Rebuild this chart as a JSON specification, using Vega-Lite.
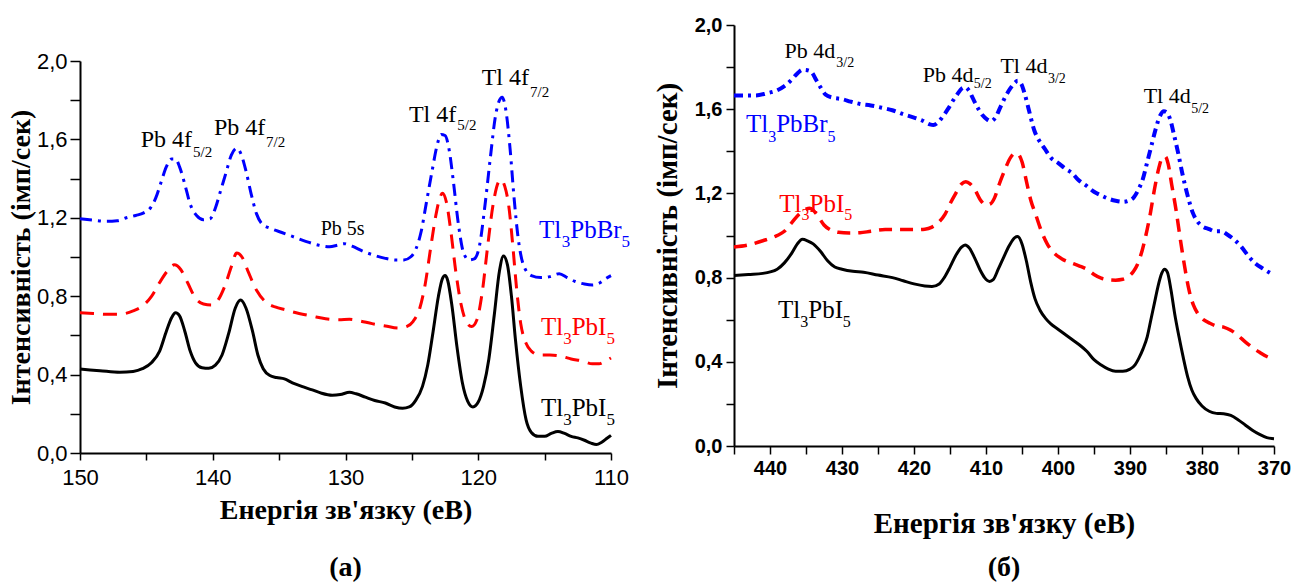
{
  "$schema": "https://vega.github.io/schema/vega-lite/v6.json",
  "background": "white",
  "padding": {"left": 7, "top": 15, "right": 0, "bottom": 0},
  "config": {
    "view": {"stroke": null},
    "axis": {"grid": false, "domainColor": "black", "tickColor": "black", "labelColor": "black", "titleColor": "black", "labelOverlap": false, "labelFlush": false},
    "title": {"color": "black"}
  },
  "datasets": {
    "a": [
      {"s": "Ik", "E": 150.0, "I": 0.428}, {"s": "Ik", "E": 148.5, "I": 0.42}, {"s": "Ik", "E": 147.0, "I": 0.412}, {"s": "Ik", "E": 146.0, "I": 0.416},
      {"s": "Ik", "E": 145.3, "I": 0.43}, {"s": "Ik", "E": 144.6, "I": 0.462}, {"s": "Ik", "E": 144.0, "I": 0.52}, {"s": "Ik", "E": 143.5, "I": 0.62},
      {"s": "Ik", "E": 143.1, "I": 0.69}, {"s": "Ik", "E": 142.8, "I": 0.715}, {"s": "Ik", "E": 142.5, "I": 0.7}, {"s": "Ik", "E": 142.1, "I": 0.62},
      {"s": "Ik", "E": 141.7, "I": 0.52}, {"s": "Ik", "E": 141.3, "I": 0.46}, {"s": "Ik", "E": 140.8, "I": 0.435}, {"s": "Ik", "E": 140.3, "I": 0.432},
      {"s": "Ik", "E": 139.8, "I": 0.448}, {"s": "Ik", "E": 139.3, "I": 0.5}, {"s": "Ik", "E": 138.8, "I": 0.61}, {"s": "Ik", "E": 138.3, "I": 0.74},
      {"s": "Ik", "E": 137.9, "I": 0.78}, {"s": "Ik", "E": 137.5, "I": 0.74}, {"s": "Ik", "E": 137.0, "I": 0.62}, {"s": "Ik", "E": 136.6, "I": 0.5},
      {"s": "Ik", "E": 136.2, "I": 0.43}, {"s": "Ik", "E": 135.7, "I": 0.395}, {"s": "Ik", "E": 135.2, "I": 0.385}, {"s": "Ik", "E": 134.6, "I": 0.378},
      {"s": "Ik", "E": 134.0, "I": 0.358}, {"s": "Ik", "E": 133.3, "I": 0.34}, {"s": "Ik", "E": 132.5, "I": 0.322}, {"s": "Ik", "E": 131.8, "I": 0.305},
      {"s": "Ik", "E": 131.0, "I": 0.295}, {"s": "Ik", "E": 130.4, "I": 0.298}, {"s": "Ik", "E": 129.7, "I": 0.31}, {"s": "Ik", "E": 129.2, "I": 0.302},
      {"s": "Ik", "E": 128.5, "I": 0.285}, {"s": "Ik", "E": 127.8, "I": 0.268}, {"s": "Ik", "E": 127.0, "I": 0.255}, {"s": "Ik", "E": 126.3, "I": 0.235},
      {"s": "Ik", "E": 125.7, "I": 0.228}, {"s": "Ik", "E": 125.2, "I": 0.235}, {"s": "Ik", "E": 124.7, "I": 0.27}, {"s": "Ik", "E": 124.2, "I": 0.34},
      {"s": "Ik", "E": 123.8, "I": 0.45}, {"s": "Ik", "E": 123.4, "I": 0.62}, {"s": "Ik", "E": 123.0, "I": 0.8}, {"s": "Ik", "E": 122.7, "I": 0.89},
      {"s": "Ik", "E": 122.5, "I": 0.905}, {"s": "Ik", "E": 122.3, "I": 0.88}, {"s": "Ik", "E": 122.0, "I": 0.76}, {"s": "Ik", "E": 121.6, "I": 0.54},
      {"s": "Ik", "E": 121.2, "I": 0.36}, {"s": "Ik", "E": 120.8, "I": 0.265}, {"s": "Ik", "E": 120.4, "I": 0.235}, {"s": "Ik", "E": 120.0, "I": 0.26},
      {"s": "Ik", "E": 119.6, "I": 0.34}, {"s": "Ik", "E": 119.2, "I": 0.48}, {"s": "Ik", "E": 118.8, "I": 0.7}, {"s": "Ik", "E": 118.4, "I": 0.93},
      {"s": "Ik", "E": 118.1, "I": 1.005}, {"s": "Ik", "E": 117.8, "I": 0.96}, {"s": "Ik", "E": 117.5, "I": 0.8}, {"s": "Ik", "E": 117.2, "I": 0.58},
      {"s": "Ik", "E": 116.8, "I": 0.34}, {"s": "Ik", "E": 116.4, "I": 0.17}, {"s": "Ik", "E": 116.0, "I": 0.105}, {"s": "Ik", "E": 115.5, "I": 0.085},
      {"s": "Ik", "E": 115.0, "I": 0.085}, {"s": "Ik", "E": 114.5, "I": 0.1}, {"s": "Ik", "E": 114.0, "I": 0.11}, {"s": "Ik", "E": 113.5, "I": 0.1},
      {"s": "Ik", "E": 113.0, "I": 0.085}, {"s": "Ik", "E": 112.5, "I": 0.077}, {"s": "Ik", "E": 112.0, "I": 0.065}, {"s": "Ik", "E": 111.5, "I": 0.05},
      {"s": "Ik", "E": 111.1, "I": 0.043}, {"s": "Ik", "E": 110.7, "I": 0.055}, {"s": "Ik", "E": 110.3, "I": 0.075}, {"s": "Ik", "E": 110.0, "I": 0.09},

      {"s": "Ir", "E": 150.0, "I": 0.715}, {"s": "Ir", "E": 149.0, "I": 0.712}, {"s": "Ir", "E": 148.0, "I": 0.708}, {"s": "Ir", "E": 147.0, "I": 0.708},
      {"s": "Ir", "E": 146.0, "I": 0.725}, {"s": "Ir", "E": 145.3, "I": 0.75}, {"s": "Ir", "E": 144.6, "I": 0.8}, {"s": "Ir", "E": 144.0, "I": 0.87},
      {"s": "Ir", "E": 143.4, "I": 0.93}, {"s": "Ir", "E": 142.9, "I": 0.96}, {"s": "Ir", "E": 142.4, "I": 0.935}, {"s": "Ir", "E": 141.9, "I": 0.87},
      {"s": "Ir", "E": 141.3, "I": 0.79}, {"s": "Ir", "E": 140.7, "I": 0.76}, {"s": "Ir", "E": 140.1, "I": 0.755}, {"s": "Ir", "E": 139.6, "I": 0.78},
      {"s": "Ir", "E": 139.1, "I": 0.85}, {"s": "Ir", "E": 138.6, "I": 0.95}, {"s": "Ir", "E": 138.2, "I": 1.02}, {"s": "Ir", "E": 137.8, "I": 1.0},
      {"s": "Ir", "E": 137.3, "I": 0.92}, {"s": "Ir", "E": 136.7, "I": 0.83}, {"s": "Ir", "E": 136.0, "I": 0.77}, {"s": "Ir", "E": 135.3, "I": 0.745},
      {"s": "Ir", "E": 134.5, "I": 0.73}, {"s": "Ir", "E": 133.5, "I": 0.712}, {"s": "Ir", "E": 132.5, "I": 0.698}, {"s": "Ir", "E": 131.5, "I": 0.685},
      {"s": "Ir", "E": 130.5, "I": 0.68}, {"s": "Ir", "E": 129.7, "I": 0.682}, {"s": "Ir", "E": 129.0, "I": 0.675}, {"s": "Ir", "E": 128.0, "I": 0.66},
      {"s": "Ir", "E": 127.0, "I": 0.648}, {"s": "Ir", "E": 126.0, "I": 0.637}, {"s": "Ir", "E": 125.4, "I": 0.645}, {"s": "Ir", "E": 124.9, "I": 0.672},
      {"s": "Ir", "E": 124.4, "I": 0.74}, {"s": "Ir", "E": 124.0, "I": 0.86}, {"s": "Ir", "E": 123.6, "I": 1.04}, {"s": "Ir", "E": 123.2, "I": 1.21},
      {"s": "Ir", "E": 122.9, "I": 1.3}, {"s": "Ir", "E": 122.7, "I": 1.325}, {"s": "Ir", "E": 122.4, "I": 1.28}, {"s": "Ir", "E": 122.1, "I": 1.15},
      {"s": "Ir", "E": 121.7, "I": 0.93}, {"s": "Ir", "E": 121.3, "I": 0.76}, {"s": "Ir", "E": 120.9, "I": 0.67}, {"s": "Ir", "E": 120.5, "I": 0.645},
      {"s": "Ir", "E": 120.1, "I": 0.68}, {"s": "Ir", "E": 119.7, "I": 0.82}, {"s": "Ir", "E": 119.3, "I": 1.05}, {"s": "Ir", "E": 118.9, "I": 1.26},
      {"s": "Ir", "E": 118.5, "I": 1.38}, {"s": "Ir", "E": 118.3, "I": 1.395}, {"s": "Ir", "E": 118.0, "I": 1.36}, {"s": "Ir", "E": 117.7, "I": 1.26},
      {"s": "Ir", "E": 117.4, "I": 1.06}, {"s": "Ir", "E": 117.1, "I": 0.83}, {"s": "Ir", "E": 116.8, "I": 0.66}, {"s": "Ir", "E": 116.4, "I": 0.56},
      {"s": "Ir", "E": 116.0, "I": 0.52}, {"s": "Ir", "E": 115.4, "I": 0.5}, {"s": "Ir", "E": 114.6, "I": 0.5}, {"s": "Ir", "E": 113.8, "I": 0.495},
      {"s": "Ir", "E": 113.0, "I": 0.48}, {"s": "Ir", "E": 112.2, "I": 0.47}, {"s": "Ir", "E": 111.4, "I": 0.455}, {"s": "Ir", "E": 110.9, "I": 0.455},
      {"s": "Ir", "E": 110.4, "I": 0.47}, {"s": "Ir", "E": 110.0, "I": 0.485},

      {"s": "Br", "E": 150.0, "I": 1.195}, {"s": "Br", "E": 149.0, "I": 1.188}, {"s": "Br", "E": 148.0, "I": 1.182}, {"s": "Br", "E": 147.2, "I": 1.185},
      {"s": "Br", "E": 146.5, "I": 1.2}, {"s": "Br", "E": 145.8, "I": 1.212}, {"s": "Br", "E": 145.2, "I": 1.225}, {"s": "Br", "E": 144.7, "I": 1.25},
      {"s": "Br", "E": 144.3, "I": 1.3}, {"s": "Br", "E": 143.9, "I": 1.38}, {"s": "Br", "E": 143.5, "I": 1.46}, {"s": "Br", "E": 143.1, "I": 1.5},
      {"s": "Br", "E": 142.8, "I": 1.5}, {"s": "Br", "E": 142.5, "I": 1.46}, {"s": "Br", "E": 142.1, "I": 1.37}, {"s": "Br", "E": 141.7, "I": 1.27},
      {"s": "Br", "E": 141.2, "I": 1.21}, {"s": "Br", "E": 140.7, "I": 1.19}, {"s": "Br", "E": 140.2, "I": 1.195}, {"s": "Br", "E": 139.8, "I": 1.25},
      {"s": "Br", "E": 139.4, "I": 1.34}, {"s": "Br", "E": 139.0, "I": 1.43}, {"s": "Br", "E": 138.6, "I": 1.52}, {"s": "Br", "E": 138.2, "I": 1.555},
      {"s": "Br", "E": 137.9, "I": 1.53}, {"s": "Br", "E": 137.5, "I": 1.44}, {"s": "Br", "E": 137.1, "I": 1.32}, {"s": "Br", "E": 136.7, "I": 1.22},
      {"s": "Br", "E": 136.3, "I": 1.17}, {"s": "Br", "E": 135.6, "I": 1.145}, {"s": "Br", "E": 134.8, "I": 1.125}, {"s": "Br", "E": 134.0, "I": 1.105},
      {"s": "Br", "E": 133.0, "I": 1.08}, {"s": "Br", "E": 132.0, "I": 1.06}, {"s": "Br", "E": 131.2, "I": 1.052}, {"s": "Br", "E": 130.6, "I": 1.06},
      {"s": "Br", "E": 130.1, "I": 1.068}, {"s": "Br", "E": 129.5, "I": 1.055}, {"s": "Br", "E": 128.7, "I": 1.03}, {"s": "Br", "E": 127.9, "I": 1.01},
      {"s": "Br", "E": 127.0, "I": 0.993}, {"s": "Br", "E": 126.2, "I": 0.985}, {"s": "Br", "E": 125.6, "I": 0.985}, {"s": "Br", "E": 125.1, "I": 1.0},
      {"s": "Br", "E": 124.7, "I": 1.04}, {"s": "Br", "E": 124.3, "I": 1.13}, {"s": "Br", "E": 123.9, "I": 1.28}, {"s": "Br", "E": 123.5, "I": 1.43},
      {"s": "Br", "E": 123.1, "I": 1.57}, {"s": "Br", "E": 122.8, "I": 1.625}, {"s": "Br", "E": 122.5, "I": 1.62}, {"s": "Br", "E": 122.2, "I": 1.55},
      {"s": "Br", "E": 121.9, "I": 1.4}, {"s": "Br", "E": 121.5, "I": 1.17}, {"s": "Br", "E": 121.1, "I": 1.02}, {"s": "Br", "E": 120.7, "I": 0.985},
      {"s": "Br", "E": 120.3, "I": 0.99}, {"s": "Br", "E": 119.9, "I": 1.06}, {"s": "Br", "E": 119.5, "I": 1.26}, {"s": "Br", "E": 119.1, "I": 1.5},
      {"s": "Br", "E": 118.7, "I": 1.72}, {"s": "Br", "E": 118.4, "I": 1.8}, {"s": "Br", "E": 118.2, "I": 1.815}, {"s": "Br", "E": 117.9, "I": 1.74},
      {"s": "Br", "E": 117.6, "I": 1.55}, {"s": "Br", "E": 117.3, "I": 1.3}, {"s": "Br", "E": 117.0, "I": 1.1}, {"s": "Br", "E": 116.6, "I": 0.96},
      {"s": "Br", "E": 116.0, "I": 0.905}, {"s": "Br", "E": 115.3, "I": 0.895}, {"s": "Br", "E": 114.6, "I": 0.9}, {"s": "Br", "E": 113.9, "I": 0.915},
      {"s": "Br", "E": 113.3, "I": 0.895}, {"s": "Br", "E": 112.7, "I": 0.875}, {"s": "Br", "E": 112.0, "I": 0.862}, {"s": "Br", "E": 111.4, "I": 0.857},
      {"s": "Br", "E": 110.8, "I": 0.87}, {"s": "Br", "E": 110.4, "I": 0.89}, {"s": "Br", "E": 110.0, "I": 0.905}
    ],
    "labA": [
      {"k": "pk", "s": "pk", "E": 145.43, "I": 1.563, "t": "Pb 4f"},
      {"k": "pksub", "s": "pk", "E": 141.49, "I": 1.51, "t": "5/2"},
      {"k": "pk", "s": "pk", "E": 139.91, "I": 1.622, "t": "Pb 4f"},
      {"k": "pksub", "s": "pk", "E": 135.99, "I": 1.563, "t": "7/2"},
      {"k": "pk", "s": "pk", "E": 125.22, "I": 1.69, "t": "Tl 4f"},
      {"k": "pksub", "s": "pk", "E": 121.58, "I": 1.648, "t": "5/2"},
      {"k": "pk", "s": "pk", "E": 119.74, "I": 1.878, "t": "Tl 4f"},
      {"k": "pksub", "s": "pk", "E": 116.1, "I": 1.818, "t": "7/2"},
      {"k": "sm", "s": "pk", "E": 131.87, "I": 1.112, "t": "Pb 5s"},
      {"k": "cp", "s": "Br", "E": 115.42, "I": 1.097, "t": "Tl"},
      {"k": "cpsub", "s": "Br", "E": 113.71, "I": 1.05, "t": "3"},
      {"k": "cp", "s": "Br", "E": 113.07, "I": 1.097, "t": "PbBr"},
      {"k": "cpsub", "s": "Br", "E": 109.2, "I": 1.05, "t": "5"},
      {"k": "cp", "s": "Ir", "E": 115.27, "I": 0.6, "t": "Tl"},
      {"k": "cpsub", "s": "Ir", "E": 113.6, "I": 0.555, "t": "3"},
      {"k": "cp", "s": "Ir", "E": 112.96, "I": 0.6, "t": "PbI"},
      {"k": "cpsub", "s": "Ir", "E": 110.34, "I": 0.555, "t": "5"},
      {"k": "cp", "s": "Ik", "E": 115.27, "I": 0.19, "t": "Tl"},
      {"k": "cpsub", "s": "Ik", "E": 113.6, "I": 0.145, "t": "3"},
      {"k": "cp", "s": "Ik", "E": 112.96, "I": 0.19, "t": "PbI"},
      {"k": "cpsub", "s": "Ik", "E": 110.34, "I": 0.145, "t": "5"}
    ],
    "b": [
      {"s": "Ik", "E": 445, "I": 0.81}, {"s": "Ik", "E": 443, "I": 0.815}, {"s": "Ik", "E": 441, "I": 0.82}, {"s": "Ik", "E": 439, "I": 0.84},
      {"s": "Ik", "E": 438, "I": 0.87}, {"s": "Ik", "E": 437, "I": 0.915}, {"s": "Ik", "E": 436.2, "I": 0.96}, {"s": "Ik", "E": 435.5, "I": 0.982},
      {"s": "Ik", "E": 434.8, "I": 0.975}, {"s": "Ik", "E": 434, "I": 0.96}, {"s": "Ik", "E": 433, "I": 0.925}, {"s": "Ik", "E": 432, "I": 0.88},
      {"s": "Ik", "E": 431, "I": 0.85}, {"s": "Ik", "E": 430, "I": 0.84}, {"s": "Ik", "E": 428.5, "I": 0.83}, {"s": "Ik", "E": 427, "I": 0.825},
      {"s": "Ik", "E": 425, "I": 0.812}, {"s": "Ik", "E": 423, "I": 0.8}, {"s": "Ik", "E": 421.5, "I": 0.785}, {"s": "Ik", "E": 420, "I": 0.77},
      {"s": "Ik", "E": 418.5, "I": 0.76}, {"s": "Ik", "E": 417.5, "I": 0.758}, {"s": "Ik", "E": 416.5, "I": 0.77}, {"s": "Ik", "E": 415.8, "I": 0.8},
      {"s": "Ik", "E": 415, "I": 0.85}, {"s": "Ik", "E": 414.2, "I": 0.905}, {"s": "Ik", "E": 413.4, "I": 0.945}, {"s": "Ik", "E": 412.9, "I": 0.955},
      {"s": "Ik", "E": 412.3, "I": 0.94}, {"s": "Ik", "E": 411.6, "I": 0.895}, {"s": "Ik", "E": 410.8, "I": 0.835}, {"s": "Ik", "E": 410.2, "I": 0.8},
      {"s": "Ik", "E": 409.5, "I": 0.782}, {"s": "Ik", "E": 409, "I": 0.79}, {"s": "Ik", "E": 408.3, "I": 0.84}, {"s": "Ik", "E": 407.5, "I": 0.9},
      {"s": "Ik", "E": 406.8, "I": 0.95}, {"s": "Ik", "E": 406.0, "I": 0.99}, {"s": "Ik", "E": 405.6, "I": 0.995}, {"s": "Ik", "E": 405.0, "I": 0.96},
      {"s": "Ik", "E": 404.4, "I": 0.88}, {"s": "Ik", "E": 403.8, "I": 0.78}, {"s": "Ik", "E": 403.2, "I": 0.7}, {"s": "Ik", "E": 402.5, "I": 0.645},
      {"s": "Ik", "E": 401.7, "I": 0.605}, {"s": "Ik", "E": 401, "I": 0.58}, {"s": "Ik", "E": 400, "I": 0.555}, {"s": "Ik", "E": 399, "I": 0.53},
      {"s": "Ik", "E": 398, "I": 0.505}, {"s": "Ik", "E": 397, "I": 0.48}, {"s": "Ik", "E": 396, "I": 0.45}, {"s": "Ik", "E": 395, "I": 0.41},
      {"s": "Ik", "E": 394, "I": 0.385}, {"s": "Ik", "E": 393, "I": 0.365}, {"s": "Ik", "E": 392, "I": 0.355}, {"s": "Ik", "E": 391, "I": 0.355},
      {"s": "Ik", "E": 390, "I": 0.365}, {"s": "Ik", "E": 389.3, "I": 0.385}, {"s": "Ik", "E": 388.8, "I": 0.415}, {"s": "Ik", "E": 388.2, "I": 0.46},
      {"s": "Ik", "E": 387.6, "I": 0.52}, {"s": "Ik", "E": 387.1, "I": 0.6}, {"s": "Ik", "E": 386.6, "I": 0.68}, {"s": "Ik", "E": 386.1, "I": 0.76},
      {"s": "Ik", "E": 385.6, "I": 0.82}, {"s": "Ik", "E": 385.2, "I": 0.84}, {"s": "Ik", "E": 384.8, "I": 0.825}, {"s": "Ik", "E": 384.3, "I": 0.74},
      {"s": "Ik", "E": 383.8, "I": 0.63}, {"s": "Ik", "E": 383.2, "I": 0.52}, {"s": "Ik", "E": 382.6, "I": 0.42}, {"s": "Ik", "E": 382.0, "I": 0.33},
      {"s": "Ik", "E": 381.4, "I": 0.265}, {"s": "Ik", "E": 380.8, "I": 0.225}, {"s": "Ik", "E": 380.0, "I": 0.19}, {"s": "Ik", "E": 379.0, "I": 0.165},
      {"s": "Ik", "E": 378.0, "I": 0.155}, {"s": "Ik", "E": 377.0, "I": 0.153}, {"s": "Ik", "E": 376.0, "I": 0.145}, {"s": "Ik", "E": 375.0, "I": 0.125},
      {"s": "Ik", "E": 374.0, "I": 0.1}, {"s": "Ik", "E": 373.0, "I": 0.075}, {"s": "Ik", "E": 372.0, "I": 0.055}, {"s": "Ik", "E": 371.0, "I": 0.04},
      {"s": "Ik", "E": 370.0, "I": 0.035},

      {"s": "Ir", "E": 445, "I": 0.945}, {"s": "Ir", "E": 443, "I": 0.955}, {"s": "Ir", "E": 441, "I": 0.975}, {"s": "Ir", "E": 439, "I": 1.0},
      {"s": "Ir", "E": 438, "I": 1.02}, {"s": "Ir", "E": 437, "I": 1.06}, {"s": "Ir", "E": 436, "I": 1.1}, {"s": "Ir", "E": 435, "I": 1.125},
      {"s": "Ir", "E": 434.5, "I": 1.13}, {"s": "Ir", "E": 434, "I": 1.12}, {"s": "Ir", "E": 433.3, "I": 1.09}, {"s": "Ir", "E": 432.5, "I": 1.05},
      {"s": "Ir", "E": 431.5, "I": 1.025}, {"s": "Ir", "E": 430.5, "I": 1.015}, {"s": "Ir", "E": 429, "I": 1.012}, {"s": "Ir", "E": 427.5, "I": 1.013},
      {"s": "Ir", "E": 426, "I": 1.02}, {"s": "Ir", "E": 424, "I": 1.028}, {"s": "Ir", "E": 422, "I": 1.028}, {"s": "Ir", "E": 420, "I": 1.028},
      {"s": "Ir", "E": 418.5, "I": 1.03}, {"s": "Ir", "E": 417.5, "I": 1.04}, {"s": "Ir", "E": 416.5, "I": 1.065}, {"s": "Ir", "E": 415.7, "I": 1.1},
      {"s": "Ir", "E": 415, "I": 1.15}, {"s": "Ir", "E": 414.2, "I": 1.2}, {"s": "Ir", "E": 413.4, "I": 1.245}, {"s": "Ir", "E": 412.8, "I": 1.255},
      {"s": "Ir", "E": 412.2, "I": 1.245}, {"s": "Ir", "E": 411.5, "I": 1.215}, {"s": "Ir", "E": 410.8, "I": 1.17}, {"s": "Ir", "E": 410.0, "I": 1.145},
      {"s": "Ir", "E": 409.4, "I": 1.15}, {"s": "Ir", "E": 408.8, "I": 1.18}, {"s": "Ir", "E": 408.2, "I": 1.24}, {"s": "Ir", "E": 407.4, "I": 1.31},
      {"s": "Ir", "E": 406.6, "I": 1.37}, {"s": "Ir", "E": 406.0, "I": 1.39}, {"s": "Ir", "E": 405.5, "I": 1.385}, {"s": "Ir", "E": 405, "I": 1.35},
      {"s": "Ir", "E": 404.4, "I": 1.26}, {"s": "Ir", "E": 403.8, "I": 1.17}, {"s": "Ir", "E": 403.1, "I": 1.1}, {"s": "Ir", "E": 402.3, "I": 1.02},
      {"s": "Ir", "E": 401.5, "I": 0.96}, {"s": "Ir", "E": 400.5, "I": 0.915}, {"s": "Ir", "E": 399.5, "I": 0.89}, {"s": "Ir", "E": 398.2, "I": 0.87},
      {"s": "Ir", "E": 397, "I": 0.855}, {"s": "Ir", "E": 396, "I": 0.84}, {"s": "Ir", "E": 395, "I": 0.815}, {"s": "Ir", "E": 394, "I": 0.797},
      {"s": "Ir", "E": 393, "I": 0.79}, {"s": "Ir", "E": 392, "I": 0.788}, {"s": "Ir", "E": 391, "I": 0.792}, {"s": "Ir", "E": 390.2, "I": 0.805},
      {"s": "Ir", "E": 389.5, "I": 0.83}, {"s": "Ir", "E": 389, "I": 0.86}, {"s": "Ir", "E": 388.3, "I": 0.93}, {"s": "Ir", "E": 387.8, "I": 1.0},
      {"s": "Ir", "E": 387.2, "I": 1.1}, {"s": "Ir", "E": 386.6, "I": 1.22}, {"s": "Ir", "E": 386.0, "I": 1.32}, {"s": "Ir", "E": 385.5, "I": 1.37},
      {"s": "Ir", "E": 385.1, "I": 1.375}, {"s": "Ir", "E": 384.7, "I": 1.34}, {"s": "Ir", "E": 384.2, "I": 1.24}, {"s": "Ir", "E": 383.6, "I": 1.12},
      {"s": "Ir", "E": 383.0, "I": 0.98}, {"s": "Ir", "E": 382.4, "I": 0.85}, {"s": "Ir", "E": 381.8, "I": 0.74}, {"s": "Ir", "E": 381.2, "I": 0.67},
      {"s": "Ir", "E": 380.6, "I": 0.63}, {"s": "Ir", "E": 379.8, "I": 0.6}, {"s": "Ir", "E": 379, "I": 0.585}, {"s": "Ir", "E": 378, "I": 0.57},
      {"s": "Ir", "E": 377, "I": 0.565}, {"s": "Ir", "E": 376, "I": 0.55}, {"s": "Ir", "E": 375, "I": 0.525}, {"s": "Ir", "E": 374, "I": 0.495},
      {"s": "Ir", "E": 373, "I": 0.468}, {"s": "Ir", "E": 372, "I": 0.445}, {"s": "Ir", "E": 371, "I": 0.425}, {"s": "Ir", "E": 370, "I": 0.412},

      {"s": "Br", "E": 445, "I": 1.665}, {"s": "Br", "E": 443.5, "I": 1.665}, {"s": "Br", "E": 442, "I": 1.665}, {"s": "Br", "E": 440.5, "I": 1.675},
      {"s": "Br", "E": 439, "I": 1.69}, {"s": "Br", "E": 438, "I": 1.71}, {"s": "Br", "E": 437, "I": 1.74}, {"s": "Br", "E": 436.2, "I": 1.77},
      {"s": "Br", "E": 435.5, "I": 1.787}, {"s": "Br", "E": 434.8, "I": 1.785}, {"s": "Br", "E": 434.2, "I": 1.775}, {"s": "Br", "E": 433.6, "I": 1.74},
      {"s": "Br", "E": 433, "I": 1.705}, {"s": "Br", "E": 432.3, "I": 1.67}, {"s": "Br", "E": 431.3, "I": 1.655}, {"s": "Br", "E": 430, "I": 1.648},
      {"s": "Br", "E": 428.8, "I": 1.636}, {"s": "Br", "E": 427.5, "I": 1.625}, {"s": "Br", "E": 426, "I": 1.618}, {"s": "Br", "E": 424.5, "I": 1.607},
      {"s": "Br", "E": 423, "I": 1.595}, {"s": "Br", "E": 421.5, "I": 1.576}, {"s": "Br", "E": 420, "I": 1.56}, {"s": "Br", "E": 418.8, "I": 1.545},
      {"s": "Br", "E": 417.8, "I": 1.528}, {"s": "Br", "E": 417.3, "I": 1.525}, {"s": "Br", "E": 416.6, "I": 1.54}, {"s": "Br", "E": 416, "I": 1.565},
      {"s": "Br", "E": 415.3, "I": 1.6}, {"s": "Br", "E": 414.6, "I": 1.64}, {"s": "Br", "E": 414, "I": 1.67}, {"s": "Br", "E": 413.3, "I": 1.7},
      {"s": "Br", "E": 412.9, "I": 1.705}, {"s": "Br", "E": 412.4, "I": 1.69}, {"s": "Br", "E": 411.8, "I": 1.65}, {"s": "Br", "E": 411.2, "I": 1.61},
      {"s": "Br", "E": 410.5, "I": 1.572}, {"s": "Br", "E": 409.8, "I": 1.55}, {"s": "Br", "E": 409.3, "I": 1.543}, {"s": "Br", "E": 408.7, "I": 1.56},
      {"s": "Br", "E": 408, "I": 1.61}, {"s": "Br", "E": 407.3, "I": 1.66}, {"s": "Br", "E": 406.6, "I": 1.7}, {"s": "Br", "E": 406, "I": 1.725},
      {"s": "Br", "E": 405.6, "I": 1.735}, {"s": "Br", "E": 405.1, "I": 1.72}, {"s": "Br", "E": 404.6, "I": 1.67}, {"s": "Br", "E": 404, "I": 1.59},
      {"s": "Br", "E": 403.3, "I": 1.5}, {"s": "Br", "E": 402.6, "I": 1.45}, {"s": "Br", "E": 401.8, "I": 1.41}, {"s": "Br", "E": 401, "I": 1.37},
      {"s": "Br", "E": 400, "I": 1.345}, {"s": "Br", "E": 399, "I": 1.318}, {"s": "Br", "E": 398, "I": 1.295}, {"s": "Br", "E": 397.2, "I": 1.265},
      {"s": "Br", "E": 396, "I": 1.235}, {"s": "Br", "E": 395, "I": 1.208}, {"s": "Br", "E": 394, "I": 1.19}, {"s": "Br", "E": 393, "I": 1.175},
      {"s": "Br", "E": 392, "I": 1.165}, {"s": "Br", "E": 391, "I": 1.16}, {"s": "Br", "E": 390.2, "I": 1.165}, {"s": "Br", "E": 389.5, "I": 1.18},
      {"s": "Br", "E": 388.8, "I": 1.22}, {"s": "Br", "E": 388.2, "I": 1.27}, {"s": "Br", "E": 387.6, "I": 1.35}, {"s": "Br", "E": 387.0, "I": 1.43},
      {"s": "Br", "E": 386.4, "I": 1.51}, {"s": "Br", "E": 385.8, "I": 1.57}, {"s": "Br", "E": 385.3, "I": 1.59}, {"s": "Br", "E": 384.9, "I": 1.585},
      {"s": "Br", "E": 384.4, "I": 1.55}, {"s": "Br", "E": 383.9, "I": 1.48}, {"s": "Br", "E": 383.3, "I": 1.39}, {"s": "Br", "E": 382.7, "I": 1.29},
      {"s": "Br", "E": 382.0, "I": 1.19}, {"s": "Br", "E": 381.3, "I": 1.11}, {"s": "Br", "E": 380.6, "I": 1.065}, {"s": "Br", "E": 380, "I": 1.045},
      {"s": "Br", "E": 379, "I": 1.03}, {"s": "Br", "E": 378.2, "I": 1.02}, {"s": "Br", "E": 377.3, "I": 1.02}, {"s": "Br", "E": 376.5, "I": 1.005},
      {"s": "Br", "E": 375.5, "I": 0.98}, {"s": "Br", "E": 374.5, "I": 0.945}, {"s": "Br", "E": 373.5, "I": 0.9}, {"s": "Br", "E": 372.5, "I": 0.865},
      {"s": "Br", "E": 371.5, "I": 0.842}, {"s": "Br", "E": 370.7, "I": 0.825}, {"s": "Br", "E": 370, "I": 0.812}
    ],
    "labB": [
      {"k": "pk", "s": "pk", "E": 438.0, "I": 1.842, "t": "Pb 4d"},
      {"k": "pksub", "s": "pk", "E": 430.8, "I": 1.8, "t": "3/2"},
      {"k": "pk", "s": "pk", "E": 418.8, "I": 1.731, "t": "Pb 4d"},
      {"k": "pksub", "s": "pk", "E": 411.7, "I": 1.7, "t": "5/2"},
      {"k": "pk", "s": "pk", "E": 408.0, "I": 1.77, "t": "Tl 4d"},
      {"k": "pksub", "s": "pk", "E": 401.4, "I": 1.723, "t": "3/2"},
      {"k": "pk", "s": "pk", "E": 388.1, "I": 1.628, "t": "Tl 4d"},
      {"k": "pksub", "s": "pk", "E": 381.5, "I": 1.58, "t": "5/2"},
      {"k": "cp", "s": "Br", "E": 443.33, "I": 1.493, "t": "Tl"},
      {"k": "cpsub", "s": "Br", "E": 440.25, "I": 1.446, "t": "3"},
      {"k": "cp", "s": "Br", "E": 439.14, "I": 1.493, "t": "PbBr"},
      {"k": "cpsub", "s": "Br", "E": 432.0, "I": 1.446, "t": "5"},
      {"k": "cp", "s": "Ir", "E": 438.71, "I": 1.113, "t": "Tl"},
      {"k": "cpsub", "s": "Ir", "E": 435.63, "I": 1.074, "t": "3"},
      {"k": "cp", "s": "Ir", "E": 434.51, "I": 1.113, "t": "PbI"},
      {"k": "cpsub", "s": "Ir", "E": 429.69, "I": 1.074, "t": "5"},
      {"k": "cp", "s": "Ik", "E": 438.9, "I": 0.61, "t": "Tl"},
      {"k": "cpsub", "s": "Ik", "E": 435.81, "I": 0.565, "t": "3"},
      {"k": "cp", "s": "Ik", "E": 434.69, "I": 0.61, "t": "PbI"},
      {"k": "cpsub", "s": "Ik", "E": 429.88, "I": 0.565, "t": "5"}
    ]
  },
  "spacing": 22,
  "hconcat": [
    {
      "spacing": 20,
      "vconcat": [
        {"width": 531, "height": 5, "data": {"values": []}, "mark": "point"},
        {
          "width": 531,
          "height": 392,
          "title": {"text": "(а)", "orient": "bottom", "font": "Liberation Serif", "fontWeight": "bold", "fontSize": 28, "offset": 30},
          "encoding": {
            "x": {
              "field": "E", "type": "quantitative",
              "scale": {"domain": [110, 150], "reverse": true, "nice": false, "zero": false},
              "axis": {
                "title": "Енергія зв'язку (еВ)",
                "values": [150, 145, 140, 135, 130, 125, 120, 115, 110],
                "labelExpr": "datum.value % 10 === 0 ? '' + datum.value : ''",
                "labelFont": "Liberation Sans", "labelFontSize": 22, "labelPadding": 7,
                "tickSize": 7, "tickWidth": 1.5, "domainWidth": 2,
                "titleFont": "Liberation Serif", "titleFontSize": 28, "titleFontWeight": "bold", "titlePadding": 8
              }
            },
            "y": {
              "field": "I", "type": "quantitative",
              "scale": {"domain": [0, 2], "nice": false},
              "axis": {
                "title": "Інтенсивність (імп/сек)",
                "values": [0, 0.2, 0.4, 0.6, 0.8, 1.0, 1.2, 1.4, 1.6, 1.8, 2.0],
                "labelExpr": "round(datum.value * 10) % 4 === 0 ? replace(format(datum.value, '.1f'), '.', ',') : ''",
                "labelFont": "Liberation Sans", "labelFontSize": 22, "labelPadding": 3,
                "tickSize": 10, "tickWidth": 1.5, "domainWidth": 2,
                "titleFont": "Liberation Serif", "titleFontSize": 28, "titleFontWeight": "bold", "titlePadding": 1
              }
            },
            "color": {
              "field": "s", "type": "nominal",
              "scale": {"domain": ["Br", "Ir", "Ik", "pk"], "range": ["#0000ff", "#ff0000", "#000000", "#000000"]},
              "legend": null
            }
          },
          "layer": [
            {
              "data": {"name": "a"},
              "transform": [{"filter": "datum.s === 'Ik'"}],
              "mark": {"type": "line", "interpolate": "monotone", "strokeWidth": 3},
              "encoding": {"order": {"field": "E", "sort": "descending"}}
            },
            {
              "data": {"name": "a"},
              "transform": [{"filter": "datum.s === 'Ir'"}],
              "mark": {"type": "line", "interpolate": "monotone", "strokeWidth": 3, "strokeDash": [14, 9]},
              "encoding": {"order": {"field": "E", "sort": "descending"}}
            },
            {
              "data": {"name": "a"},
              "transform": [{"filter": "datum.s === 'Br'"}],
              "mark": {"type": "line", "interpolate": "monotone", "strokeWidth": 3, "strokeDash": [12, 6, 3, 6]},
              "encoding": {"order": {"field": "E", "sort": "descending"}}
            },
            {
              "data": {"name": "labA"},
              "transform": [{"filter": "datum.k === 'pk'"}],
              "mark": {"type": "text", "align": "left", "baseline": "alphabetic", "font": "Liberation Serif", "fontSize": 24},
              "encoding": {"text": {"field": "t"}}
            },
            {
              "data": {"name": "labA"},
              "transform": [{"filter": "datum.k === 'pksub'"}],
              "mark": {"type": "text", "align": "left", "baseline": "alphabetic", "font": "Liberation Serif", "fontSize": 15},
              "encoding": {"text": {"field": "t"}}
            },
            {
              "data": {"name": "labA"},
              "transform": [{"filter": "datum.k === 'sm'"}],
              "mark": {"type": "text", "align": "left", "baseline": "alphabetic", "font": "Liberation Serif", "fontSize": 20},
              "encoding": {"text": {"field": "t"}}
            },
            {
              "data": {"name": "labA"},
              "transform": [{"filter": "datum.k === 'cp'"}],
              "mark": {"type": "text", "align": "left", "baseline": "alphabetic", "font": "Liberation Serif", "fontSize": 25},
              "encoding": {"text": {"field": "t"}}
            },
            {
              "data": {"name": "labA"},
              "transform": [{"filter": "datum.k === 'cpsub'"}],
              "mark": {"type": "text", "align": "left", "baseline": "alphabetic", "font": "Liberation Serif", "fontSize": 17},
              "encoding": {"text": {"field": "t"}}
            }
          ]
        }
      ]
    },
    {
      "width": 540,
      "height": 421,
      "title": {"text": "(б)", "orient": "bottom", "font": "Liberation Serif", "fontWeight": "bold", "fontSize": 28, "offset": 16},
      "encoding": {
        "x": {
          "field": "E", "type": "quantitative",
          "scale": {"domain": [370, 445], "reverse": true, "nice": false, "zero": false},
          "axis": {
            "title": "Енергія зв'язку (еВ)",
            "values": [445, 440, 435, 430, 425, 420, 415, 410, 405, 400, 395, 390, 385, 380, 375, 370],
            "labelExpr": "datum.value % 10 === 0 ? '' + datum.value : ''",
            "labelFont": "Liberation Sans", "labelFontWeight": "bold", "labelFontSize": 20, "labelPadding": 4,
            "tickSize": 8, "tickWidth": 1.5, "domainWidth": 2,
            "titleFont": "Liberation Serif", "titleFontSize": 29, "titleFontWeight": "bold", "titlePadding": 31
          }
        },
        "y": {
          "field": "I", "type": "quantitative",
          "scale": {"domain": [0, 2], "nice": false},
          "axis": {
            "title": "Інтенсивність (імп/сек)",
            "values": [0, 0.2, 0.4, 0.6, 0.8, 1.0, 1.2, 1.4, 1.6, 1.8, 2.0],
            "labelExpr": "round(datum.value * 10) % 4 === 0 ? replace(format(datum.value, '.1f'), '.', ',') : ''",
            "labelFont": "Liberation Sans", "labelFontWeight": "bold", "labelFontSize": 20, "labelPadding": 4,
            "tickSize": 8, "tickWidth": 1.5, "domainWidth": 2,
            "titleFont": "Liberation Serif", "titleFontSize": 29, "titleFontWeight": "bold", "titlePadding": 12
          }
        },
        "color": {
          "field": "s", "type": "nominal",
          "scale": {"domain": ["Br", "Ir", "Ik", "pk"], "range": ["#0000ff", "#ff0000", "#000000", "#000000"]},
          "legend": null
        }
      },
      "layer": [
        {
          "data": {"name": "b"},
          "transform": [{"filter": "datum.s === 'Ik'"}],
          "mark": {"type": "line", "interpolate": "monotone", "strokeWidth": 3},
          "encoding": {"order": {"field": "E", "sort": "descending"}}
        },
        {
          "data": {"name": "b"},
          "transform": [{"filter": "datum.s === 'Ir'"}],
          "mark": {"type": "line", "interpolate": "monotone", "strokeWidth": 3.5, "strokeDash": [13, 8]},
          "encoding": {"order": {"field": "E", "sort": "descending"}}
        },
        {
          "data": {"name": "b"},
          "transform": [{"filter": "datum.s === 'Br'"}],
          "mark": {"type": "line", "interpolate": "monotone", "strokeWidth": 4, "strokeDash": [9, 5, 3, 5]},
          "encoding": {"order": {"field": "E", "sort": "descending"}}
        },
        {
          "data": {"name": "labB"},
          "transform": [{"filter": "datum.k === 'pk'"}],
          "mark": {"type": "text", "align": "left", "baseline": "alphabetic", "font": "Liberation Serif", "fontSize": 22},
          "encoding": {"text": {"field": "t"}}
        },
        {
          "data": {"name": "labB"},
          "transform": [{"filter": "datum.k === 'pksub'"}],
          "mark": {"type": "text", "align": "left", "baseline": "alphabetic", "font": "Liberation Serif", "fontSize": 14},
          "encoding": {"text": {"field": "t"}}
        },
        {
          "data": {"name": "labB"},
          "transform": [{"filter": "datum.k === 'cp'"}],
          "mark": {"type": "text", "align": "left", "baseline": "alphabetic", "font": "Liberation Serif", "fontSize": 25},
          "encoding": {"text": {"field": "t"}}
        },
        {
          "data": {"name": "labB"},
          "transform": [{"filter": "datum.k === 'cpsub'"}],
          "mark": {"type": "text", "align": "left", "baseline": "alphabetic", "font": "Liberation Serif", "fontSize": 16},
          "encoding": {"text": {"field": "t"}}
        }
      ]
    }
  ]
}
